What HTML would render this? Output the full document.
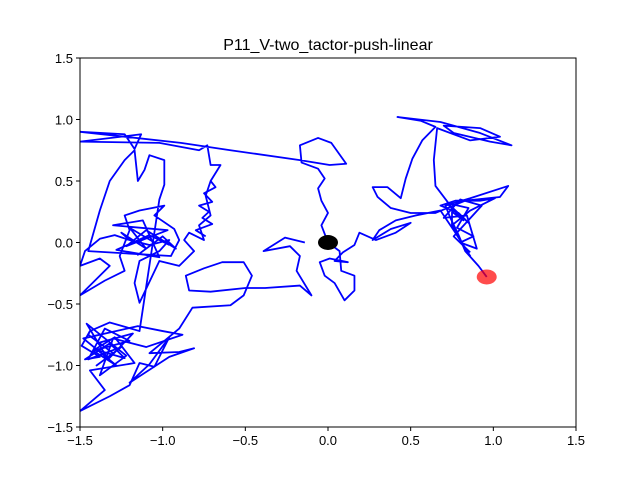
<!DOCTYPE html>
<html><head><meta charset="utf-8"><style>
body{margin:0;background:#fff}
svg{display:block;font-family:"Liberation Sans","DejaVu Sans",sans-serif}
</style></head><body>
<svg id="chart" width="640" height="480" viewBox="0 0 640 480" xmlns="http://www.w3.org/2000/svg">
<rect width="640" height="480" fill="#fff"/>
<text x="328" y="50" font-size="16" text-anchor="middle">P11_V-two_tactor-push-linear</text>
<g id="plot"></g>
<rect x="80" y="58" width="496" height="369" fill="none" stroke="#000" stroke-width="1"/>
<g id="axes"></g>
</svg>
<script>
const xTicks=[-1.5,-1,-0.5,0,0.5,1,1.5];
const yTicks=[-1.5,-1,-0.5,0,0.5,1,1.5];
const pathX=[0.96,0.91,0.83,0.79,0.74,0.71,0.86,1.09,1.04,0.83,0.65,0.50,0.38,0.30,0.27,0.36,0.44,0.47,0.51,0.57,0.65,0.56,0.42,0.68,0.92,1.11,0.98,0.76,0.70,0.92,1.04,0.86,0.66,0.64,0.65,0.74,0.85,0.79,0.68,0.77,0.92,1.01,0.86,0.75,0.80,0.86,0.77,0.68,0.53,0.41,0.31,0.27,0.38,0.50,0.41,0.29,0.19,0.16,0.09,0.04,0.12,0.01,-0.05,-0.02,0.04,0.10,0.16,0.16,0.08,0.07,0,-0.04,0,-0.04,-0.06,-0.02,-0.06,-0.16,-0.17,-0.06,0.02,0.11,0.01,-0.17,-0.59,-0.89,-1.5,-1.23,-1.17,-1.13,-1.5,-1.02,-0.78,-0.73,-0.71,-0.65,-0.71,-0.74,-0.71,-0.78,-0.75,-0.84,-0.87,-0.81,-0.9,-1.02,-1.14,-1.17,-1.14,-1.02,-0.96,-1.08,-1.20,-1.29,-1.38,-1.47,-1.5,-1.38,-1.32,-1.5,-1.35,-1.23,-1.26,-1.20,-1.23,-1.14,-0.99,-1.05,-0.93,-0.90,-0.95,-1.45,-1.38,-1.32,-1.23,-1.17,-1.15,-1.11,-1.08,-0.99,-0.99,-1.02,-1.14,-1.32,-1.44,-1.49,-1.38,-1.47,-1.32,-1.23,-1.41,-1.29,-1.17,-1.44,-1.35,-1.5,-1.32,-1.20,-1.14,-1.05,-0.96,-1.08,-1.20,-0.96,-0.81,-0.90,-1.08,-0.99,-0.90,-0.82,-0.59,-0.51,-0.46,-0.51,-0.64,-0.75,-0.86,-0.84,-0.71,-0.50,-0.38,-0.17,-0.10,-0.19,-0.17,-0.23,-0.39,-0.26,-0.14,0];
const pathY=[-0.28,-0.19,-0.07,0.06,0.20,0.30,0.36,0.46,0.37,0.34,0.24,0.24,0.28,0.37,0.45,0.45,0.36,0.52,0.68,0.83,0.94,0.99,1.02,0.98,0.89,0.79,0.82,0.89,0.95,0.93,0.86,0.83,0.93,0.67,0.46,0.30,0.16,0.24,0.30,0.34,0.34,0.36,0.26,0.14,0.02,-0.11,0.08,0.26,0.22,0.18,0.10,0.02,0.11,0.16,0.08,0.02,0.08,-0.02,-0.08,-0.15,-0.16,-0.13,-0.16,-0.27,-0.33,-0.47,-0.39,-0.27,-0.23,-0.07,0,0.14,0.24,0.34,0.44,0.52,0.60,0.65,0.79,0.85,0.81,0.64,0.63,0.67,0.75,0.81,0.90,0.88,0.76,0.88,0.82,0.81,0.75,0.79,0.63,0.63,0.50,0.38,0.22,0.14,0.02,0.08,0.02,-0.07,-0.19,-0.15,-0.49,-0.33,-0.15,-0.07,0.02,-0.02,0.02,0.06,0.03,-0.07,-0.19,-0.13,-0.19,-0.43,-0.31,-0.23,-0.11,0.10,0.22,0.26,0.30,0.22,0.11,0.02,-0.11,-0.07,0.26,0.50,0.67,0.75,0.50,0.59,0.71,0.67,0.47,0.35,-0.72,-0.65,-0.72,-0.84,-0.93,-0.95,-0.82,-0.94,-0.87,-0.77,-0.98,-1.04,-1.20,-1.37,-1.25,-1.16,-0.98,-1.01,-0.77,-0.99,-1.14,-0.93,-0.86,-0.89,-0.90,-0.80,-0.70,-0.53,-0.51,-0.43,-0.27,-0.16,-0.16,-0.21,-0.27,-0.39,-0.40,-0.37,-0.37,-0.35,-0.43,-0.23,-0.11,-0.03,-0.07,0.04,0];
const tangleX=[-1.44,-1.45,-1.30,-1.40,-1.25,-1.45,-1.35,-1.20,-1.42,-1.28,-1.48,-1.15,-1.00,-0.88,-1.10,-1.30,-1.38,-1.22,-1.46,-1.33,-1.18,-1.40];
const tangleY=[-0.72,-0.75,-0.90,-1.00,-0.85,-0.95,-0.70,-0.80,-0.88,-1.00,-0.78,-0.68,-0.72,-0.75,-0.85,-0.78,-1.08,-0.92,-0.66,-0.95,-0.74,-0.82];
const clusterX=[-1.20,-1.25,-1.10,-1.20,-1.05,-1.15,-1.00,-0.92,-1.10,-1.22,-0.97,-1.30,-1.12,-1.02,-1.28,-1.08,-0.96];
const clusterY=[0.02,0.08,-0.05,0.12,0.00,-0.10,0.05,-0.05,0.10,-0.03,0.10,0.14,0.18,-0.12,-0.06,0.06,-0.02];
const rightX=[0.75,0.75,0.82,0.72,0.85,0.78,0.88,0.80,0.90,0.84,0.70,0.80,0.93,0.76,0.86];
const rightY=[0.14,0.25,0.18,0.32,0.28,0.12,0.05,0.00,-0.05,0.22,0.20,0.35,0.30,0.05,-0.08];
const upperX=[-0.71,-0.68,-0.75,-0.70,-0.78,-0.72,-0.76,-0.70,-0.80,-0.74];
const upperY=[0.50,0.45,0.40,0.33,0.30,0.25,0.20,0.15,0.10,0.05];
const startPoint=[0,0];
const endPoint=[0.96,-0.28];
const xMin=-1.5,xMax=1.5,yMin=-1.5,yMax=1.5;
const L=80,R=576,T=58,B=427;
const sx=v=>L+(v-xMin)/(xMax-xMin)*(R-L);
const sy=v=>B-(v-yMin)/(yMax-yMin)*(B-T);
const NS="http://www.w3.org/2000/svg";
const plot=document.getElementById('plot');
const axes=document.getElementById('axes');
const clip=document.createElementNS(NS,'clipPath');clip.id='cp';
const cr=document.createElementNS(NS,'rect');cr.setAttribute('x',L);cr.setAttribute('y',T);cr.setAttribute('width',R-L);cr.setAttribute('height',B-T);
clip.appendChild(cr);plot.appendChild(clip);
function drawLine(xs,ys){
  const pl=document.createElementNS(NS,'polyline');
  
  
  pl.setAttribute('points',xs.map((x,i)=>sx(x)+','+sy(ys[i])).join(' '));
  pl.setAttribute('fill','none');pl.setAttribute('stroke','#0000ff');pl.setAttribute('stroke-width','1.8');pl.setAttribute('stroke-linejoin','round');
  pl.setAttribute('clip-path','url(#cp)');
  plot.appendChild(pl);
}
drawLine(pathX,pathY);
drawLine(tangleX,tangleY);
drawLine(clusterX,clusterY);
drawLine(rightX,rightY);
drawLine(upperX,upperY);
const s=document.createElementNS(NS,'ellipse');


s.setAttribute('cx',sx(startPoint[0]));s.setAttribute('cy',sy(startPoint[1]));s.setAttribute('rx',10);s.setAttribute('ry',7.5);s.setAttribute('fill','#000');
plot.appendChild(s);
const e=document.createElementNS(NS,'ellipse');


e.setAttribute('cx',sx(endPoint[0]));e.setAttribute('cy',sy(endPoint[1]));e.setAttribute('rx',10);e.setAttribute('ry',7.5);e.setAttribute('fill','rgba(255,0,0,0.7)');
plot.appendChild(e);
const fmt=v=>(v<0?'\u2212':'')+Math.abs(v).toFixed(1);
xTicks.forEach(v=>{
  const x=sx(v);
  const t=document.createElementNS(NS,'line');
  
  
  t.setAttribute('x1',x);t.setAttribute('x2',x);t.setAttribute('y1',B);t.setAttribute('y2',B+4);t.setAttribute('stroke','#000');
  axes.appendChild(t);
  const l=document.createElementNS(NS,'text');
  
  
  l.setAttribute('x',x);l.setAttribute('y',B+18);l.setAttribute('font-size','13');l.setAttribute('text-anchor','middle');
  l.textContent=fmt(v);axes.appendChild(l);
});
yTicks.forEach(v=>{
  const y=sy(v);
  const t=document.createElementNS(NS,'line');
  
  
  t.setAttribute('x1',L-4);t.setAttribute('x2',L);t.setAttribute('y1',y);t.setAttribute('y2',y);t.setAttribute('stroke','#000');
  axes.appendChild(t);
  const l=document.createElementNS(NS,'text');
  
  
  l.setAttribute('x',L-7);l.setAttribute('y',y+5);l.setAttribute('font-size','13');l.setAttribute('text-anchor','end');
  l.textContent=fmt(v);axes.appendChild(l);
});
</script>
</body></html>
